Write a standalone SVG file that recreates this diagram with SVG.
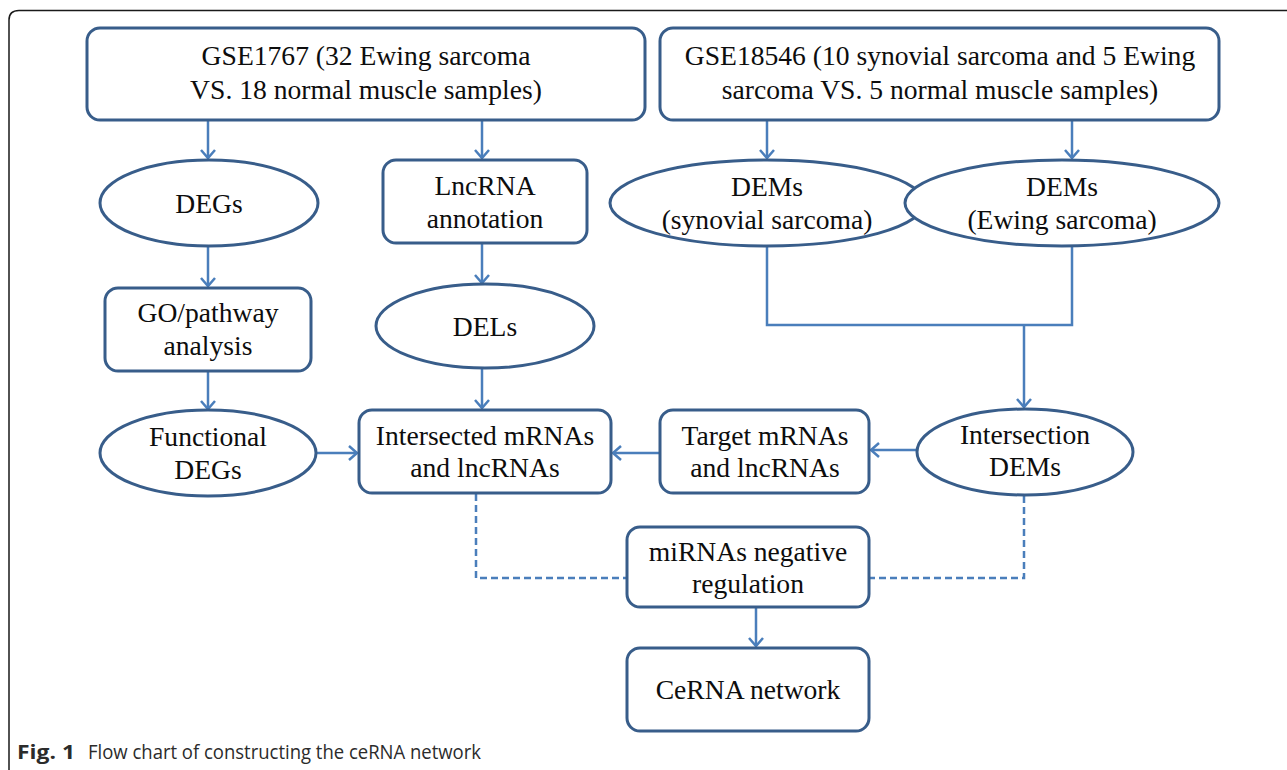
<svg xmlns="http://www.w3.org/2000/svg" width="1287" height="770" viewBox="0 0 1287 770">
<style>
.box{fill:#fff;stroke:#385D8A;stroke-width:3}
.t{font-family:"Liberation Serif","Times New Roman",serif;font-size:27.6px;fill:#0d0d0d;text-anchor:middle}
.c{fill:none;stroke:#4A7EBB;stroke-width:2.5}
.d{fill:none;stroke:#4A7EBB;stroke-width:2.5;stroke-dasharray:7 4}
.cap{font-family:"Open Sans","DejaVu Sans",sans-serif;font-size:19.5px;fill:#2b2b2b}
</style>
<defs>
<marker id="ah" markerUnits="userSpaceOnUse" markerWidth="20" markerHeight="20" viewBox="-12 -10 14 20" refX="0" refY="0" orient="auto">
<path d="M-8,-7 L0,0 L-8,7" fill="none" stroke="#4A7EBB" stroke-width="2.5"/>
</marker>
</defs>
<rect width="1287" height="770" fill="#fff"/>
<path d="M9,770 L9,20 Q9,10.5 19,10.5 L1287,10.5" fill="none" stroke="#1a1a1a" stroke-width="1.5"/>

<g id="connectors">
<line class="c" x1="208" y1="121" x2="208" y2="158" marker-end="url(#ah)"/>
<line class="c" x1="482" y1="121" x2="482" y2="158" marker-end="url(#ah)"/>
<line class="c" x1="767" y1="121" x2="767" y2="158" marker-end="url(#ah)"/>
<line class="c" x1="1072" y1="121" x2="1072" y2="158" marker-end="url(#ah)"/>
<line class="c" x1="208" y1="247" x2="208" y2="286" marker-end="url(#ah)"/>
<line class="c" x1="482" y1="244" x2="482" y2="283" marker-end="url(#ah)"/>
<line class="c" x1="208" y1="372" x2="208" y2="409" marker-end="url(#ah)"/>
<line class="c" x1="482" y1="369" x2="482" y2="408" marker-end="url(#ah)"/>
<polyline class="c" points="767,247 767,325 1072,325 1072,247"/>
<line class="c" x1="1024" y1="325" x2="1024" y2="407" marker-end="url(#ah)"/>
<line class="c" x1="316" y1="453" x2="357" y2="453" marker-end="url(#ah)"/>
<line class="c" x1="660" y1="453" x2="613" y2="453" marker-end="url(#ah)"/>
<line class="c" x1="917" y1="450" x2="871" y2="450" marker-end="url(#ah)"/>
<polyline class="d" points="476,494 476,578 627,578"/>
<polyline class="d" points="1024,496 1024,578 869,578"/>
<line class="c" x1="756" y1="608" x2="756" y2="646" marker-end="url(#ah)"/>
</g>

<g id="gse1767">
<rect class="box" x="87" y="28" width="558" height="92" rx="13"/>
<text class="t" x="366" y="65">GSE1767 (32 Ewing sarcoma</text>
<text class="t" x="366" y="99">VS. 18 normal muscle samples)</text>
</g>
<g id="gse18546">
<rect class="box" x="660" y="28" width="559" height="92" rx="13"/>
<text class="t" x="940" y="65">GSE18546 (10 synovial sarcoma and 5 Ewing</text>
<text class="t" x="940" y="99">sarcoma VS. 5 normal muscle samples)</text>
</g>
<g id="degs">
<ellipse class="box" cx="209" cy="203" rx="109" ry="43"/>
<text class="t" x="209" y="213">DEGs</text>
</g>
<g id="lncrna">
<rect class="box" x="383" y="160" width="204" height="83" rx="13"/>
<text class="t" x="485" y="195">LncRNA</text>
<text class="t" x="485" y="228">annotation</text>
</g>
<g id="dems-syn">
<ellipse class="box" cx="767" cy="203" rx="157" ry="43"/>
<text class="t" x="767" y="196">DEMs</text>
<text class="t" x="767" y="229">(synovial sarcoma)</text>
</g>
<g id="dems-ew">
<ellipse class="box" cx="1062" cy="203" rx="157" ry="43"/>
<text class="t" x="1062" y="196">DEMs</text>
<text class="t" x="1062" y="229">(Ewing sarcoma)</text>
</g>
<g id="go">
<rect class="box" x="105" y="288" width="206" height="83" rx="13"/>
<text class="t" x="208" y="322">GO/pathway</text>
<text class="t" x="208" y="355">analysis</text>
</g>
<g id="dels">
<ellipse class="box" cx="485" cy="326" rx="109" ry="42"/>
<text class="t" x="485" y="336">DELs</text>
</g>
<g id="functional">
<ellipse class="box" cx="208" cy="453" rx="108" ry="43"/>
<text class="t" x="208" y="446">Functional</text>
<text class="t" x="208" y="479">DEGs</text>
</g>
<g id="intersected">
<rect class="box" x="359" y="410" width="252" height="83" rx="13"/>
<text class="t" x="485" y="445">Intersected mRNAs</text>
<text class="t" x="485" y="477">and lncRNAs</text>
</g>
<g id="target">
<rect class="box" x="660" y="410" width="209" height="83" rx="13"/>
<text class="t" x="765" y="445">Target mRNAs</text>
<text class="t" x="765" y="477">and lncRNAs</text>
</g>
<g id="intersection">
<ellipse class="box" cx="1025" cy="452" rx="108" ry="43"/>
<text class="t" x="1025" y="444">Intersection</text>
<text class="t" x="1025" y="476">DEMs</text>
</g>
<g id="mirna">
<rect class="box" x="627" y="527" width="242" height="80" rx="13"/>
<text class="t" x="748" y="561">miRNAs negative</text>
<text class="t" x="748" y="593">regulation</text>
</g>
<g id="cerna">
<rect class="box" x="627" y="648" width="242" height="83" rx="13"/>
<text class="t" x="748" y="699">CeRNA network</text>
</g>

<text class="cap" x="17" y="759" font-weight="bold" textLength="58" lengthAdjust="spacingAndGlyphs">Fig. 1</text>
<text class="cap" x="88" y="759" textLength="393" lengthAdjust="spacingAndGlyphs">Flow chart of constructing the ceRNA network</text>
</svg>
